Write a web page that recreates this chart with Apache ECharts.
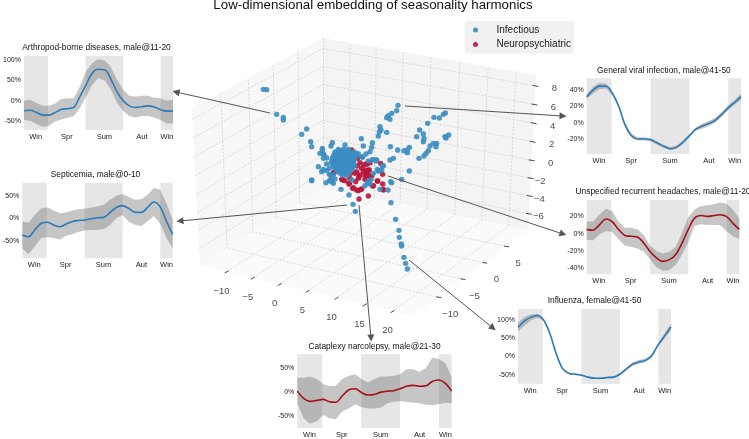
<!DOCTYPE html>
<html><head><meta charset="utf-8">
<style>html,body{margin:0;padding:0;background:#fff}#c{width:749px;height:439px}</style>
<script src="https://cdn.jsdelivr.net/npm/echarts@6/dist/echarts.min.js"></script>
</head><body><div id="c"></div>
<script>
// ---------- data: seasonal curves (percent) sampled on sampleDays ----------
const sampleDays=[0,15,30,46,61,76,91,106,122,137,152,167,182,198,213,228,243,258,274,289,304,319,334,350,365];
const seasonTickDays=[29,105,197,289,350];
const seasonTickLabels=['Win','Spr','Sum','Aut','Win'];
const seasonSpans=[[0,59],[151,243],[335,365]];

const arthropodMean=[-25,-24,-29,-36,-36,-30,-22,-20,-17,10,39,68,78,77,53,22,0,-13,-17,-15,-13,-16,-22,-26,-26];
const arthropodHigh=[0,2,-5,-13,-13,-8,4,6,6,35,73,93,103,100,83,52,27,12,10,12,12,7,6,0,2];
const arthropodLow=[-48,-50,-58,-65,-63,-52,-47,-43,-38,-19,10,39,56,50,27,-5,-26,-38,-42,-38,-38,-42,-48,-57,-57];

const septicemiaMean=[-37,-41,-26,-11,-9,-15,-19,-13,-7,-5,-4,-1,1,2,13,24,28,22,13,13,24,36,26,-7,-36];
const septicemiaHigh=[-7,-10,7,22,24,17,11,13,18,20,21,24,26,30,41,50,54,47,41,42,52,67,64,33,-4];
const septicemiaLow=[-67,-80,-63,-44,-42,-44,-47,-39,-35,-30,-27,-26,-26,-24,-15,0,7,-7,-15,-17,-7,5,-11,-44,-67];

const viralMean=[32,40,45,45,36,20,-3,-16,-20,-20,-21,-25,-29,-32,-30,-24,-16,-8,-4,-1,3,10,18,25,32];
const viralHigh=[35,44,49,48,38,22,-1,-14,-18,-18,-19,-23,-27,-30,-28,-22,-14,-6,-1,2,6,13,21,28,36];
const viralLow=[29,36,41,42,33,18,-5,-18,-22,-22,-23,-27,-31,-34,-32,-26,-18,-10,-7,-4,0,7,15,22,28];

const headacheMean=[5,4,10,17,14,5,-2,-3,-4,-11,-21,-28,-32,-30,-24,-11,5,18,21,20,21,22,20,12,5];
const headacheHigh=[14,14,22,29,26,14,7,7,5,-2,-14,-20,-23,-21,-15,1,19,28,32,33,34,36,35,28,17];
const headacheLow=[-7,-8,-1,3,2,-6,-14,-15,-17,-21,-30,-39,-43,-42,-36,-24,-10,9,11,10,10,10,3,-3,-6];

const influenzaMean=[80,97,107,112,100,63,8,-33,-47,-49,-52,-57,-60,-60,-58,-57,-49,-35,-21,-15,-11,2,31,57,81];
const influenzaHigh=[92,108,115,117,103,65,10,-31,-45,-47,-50,-55,-58,-58,-56,-54,-46,-31,-16,-10,-6,6,35,63,90];
const influenzaLow=[68,84,98,106,97,61,6,-35,-49,-51,-54,-59,-62,-62,-60,-60,-52,-39,-26,-20,-16,-2,27,50,72];

const cataplexyMean=[2,-13,-19,-17,-15,-20,-21,-8,5,7,-1,-6,-5,0,2,3,7,12,14,12,13,22,25,18,2];
const cataplexyHigh=[30,29,32,27,17,12,13,27,34,37,27,20,27,32,32,34,37,47,47,42,50,71,69,60,30];
const cataplexyLow=[-23,-54,-65,-60,-47,-54,-56,-40,-34,-25,-31,-34,-34,-32,-23,-20,-19,-20,-22,-23,-26,-27,-25,-22,-23];

// ---------- data: embedding points, as projected onto the picture plane ----------
const infectiousPoints=[
[280,208],[290,209],[320,283],[340,292],[340,300],[410,327],[395,343],[422,365],[425,380],[457,385],[487,368],[483,378],[450,400],[462,405],[525,375],[574,356],[580,378],[607,368],[605,382],[650,337],[630,320],[628,335],[625,348],[633,330],[684,256],[680,272],[665,280],[655,287],[650,293],[660,298],[792,292],[808,294],[820,283],[826,279],[773,310],[749,330],[740,350],[760,342],[762,355],[760,365],[825,350],[836,345],[828,354],[661,380],[683,390],[702,392],[712,390],[718,382],[712,398],[790,370],[800,370],[798,380],[780,378],[775,392],[768,400],[762,408],[747,415],[670,415],[660,420],[640,437],[620,420],[600,395],[588,402],[575,410],[560,400],
[425,480],[468,488],[485,485],[513,508],[537,525],[549,553],[556,574],[663,548],[677,598],[687,631],[688,652],[694,672],[695,678],[702,712],[707,730],[712,747],[654,510],[630,508],[662,485],[585,497],[595,485],[600,492],[718,453],[695,478],[635,450],[625,453],
[460,448],[425,482],[480,480],[490,490],[495,477],[482,465],[603,478],[610,460],[622,448],[638,438],[665,488],[592,490],[615,420],[445,440],[455,455],[470,432],[478,445],[460,415],[470,414],[578,412],[608,418],
[470,452],[478,463],[490,465],[485,475],[480,482],[545,480],[457,390],[460,402],[565,402],[550,405],[595,423],[618,423],[628,452],
[505,388],[520,388],[535,388],[495,396],[510,396],[525,396],[540,396],[552,396],[492,404],[505,404],[518,404],[532,404],[546,404],[556,404],[488,412],[500,412],[514,412],[528,412],[542,412],[555,412],[486,420],[498,420],[512,420],[526,420],[540,420],[552,420],[484,428],[496,428],[510,428],[524,428],[538,428],[550,428],[488,436],[502,436],[516,436],[530,436],[544,436],[554,436],[494,444],[508,444],[522,444],[536,444],[548,444],[500,452],[514,452],[528,452],[540,452],[512,460],[526,460],[536,460],
[512,392],[528,392],[500,400],[516,400],[532,400],[548,400],[498,408],[511,408],[525,408],[539,408],[551,408],[493,416],[507,416],[521,416],[535,416],[548,416],[491,424],[505,424],[519,424],[533,424],[546,424],[492,432],[506,432],[520,432],[534,432],[547,432],[498,440],[512,440],[526,440],[540,440],[504,448],[518,448],[532,448],[544,448],[507,456],[520,456],[533,456],[518,466],[530,466]
];
const neuroPoints=[
[567,537],[595,528],[640,510],[610,497],[560,510],[573,508],[548,505],[537,492],[518,480],[600,472],[622,483],[638,492],[638,463],[585,478],[540,475],[605,468],[590,455],[570,465],[555,460],[598,450],
[632,430],[623,483],[608,498],[565,512],[575,507],[538,490],[515,478],[525,482],[580,455],[588,460],[595,465],[585,468],[588,432],[600,428],[545,390],[493,412],[490,458],[567,470],[557,485],[560,455],[542,460],[562,415],[562,438],
[580,435],[592,432],[585,450],[595,450],[590,465],[565,475],[550,503],[495,455],[640,508],[575,445],[570,428]
];

// ---------- data: 3D axis tick labels ----------
const floorXTickLabels=['\u221210','\u22125','0','5','10','15','20'];
const floorYTickLabels=['\u221210','\u22125','0','5'];
const heightTickLabels=['8','6','4','2','0','\u22122','\u22124','\u22126'];
const floorXTickFractions=[.127,.25,.376,.507,.643,.775,.906];
const floorYTickFractions=[.22,.43,.62,.81];
const heightTickFractions=[.07,.19,.31,.43,.55,.665,.78,.895];

const panelNames=['Arthropod-borne diseases, male@11-20','Septicemia, male@0-10','General viral infection, male@41-50','Unspecified recurrent headaches, male@11-20','Influenza, female@41-50','Cataplexy narcolepsy, male@21-30'];

// ---------- layout ----------
const BLUE='#2b7bba',RED='#a50f15';
const panels=[
 {name:panelNames[0],mean:arthropodMean,hi:arthropodHigh,lo:arthropodLow,color:BLUE,box:[20,56,153,74],y:[-73,111],ticks:[-50,0,50,100],ty:44},
 {name:panelNames[1],mean:septicemiaMean,hi:septicemiaHigh,lo:septicemiaLow,color:BLUE,box:[18.3,182.7,154.4,75.6],y:[-89,79],ticks:[-50,0,50],ty:171},
 {name:panelNames[2],mean:viralMean,hi:viralHigh,lo:viralLow,color:BLUE,box:[586.7,78.3,154.3,75.7],y:[-38.5,54.6],ticks:[-20,0,20,40],ty:67},
 {name:panelNames[3],mean:headacheMean,hi:headacheHigh,lo:headacheLow,color:RED,box:[586.7,200,152.6,74.3],y:[-47,39],ticks:[-40,-20,0,20],ty:188},
 {name:panelNames[4],mean:influenzaMean,hi:influenzaHigh,lo:influenzaLow,color:BLUE,box:[518,309,153,74.7],y:[-75,130],ticks:[-50,0,50,100],ty:297},
 {name:panelNames[5],mean:cataplexyMean,hi:cataplexyHigh,lo:cataplexyLow,color:RED,box:[297.3,354.3,154.4,75.7],y:[-74,78],ticks:[-50,0,50],ty:343}
];
const FONT='"Liberation Sans",Arial,sans-serif';
// picture-plane units: one unit is a third of a pixel, measured from this origin
const toPlane=(px,py)=>[(px-170)*3,(py-20)*3];
const lerp=(a,b,t)=>[a[0]+(b[0]-a[0])*t,a[1]+(b[1]-a[1])*t];
const floorLeft=[200,265],floorFront=[413,316],floorRight=[528,230],floorBack=[323,188];
const topLeft=[192,108],topBack=[323,38],topRight=[536,75];
const seg=(a,b)=>({coords:[toPlane(a[0],a[1]),toPlane(b[0],b[1])]});
const gridLines=[];
floorXTickFractions.forEach(u=>{
  const a=lerp(floorLeft,floorFront,u),b=lerp(floorBack,floorRight,u),c=lerp(topBack,topRight,u);
  gridLines.push(seg(a,b),seg(b,c));
});
floorYTickFractions.forEach(v=>{
  const a=lerp(floorFront,floorRight,v),b=lerp(floorLeft,floorBack,v),c=lerp(topLeft,topBack,v);
  gridLines.push(seg(a,b),seg(b,c));
});
heightTickFractions.forEach(t=>{
  const l=lerp(topLeft,floorLeft,t),k=lerp(topBack,floorBack,t),r=lerp(topRight,floorRight,t);
  gridLines.push(seg(l,k),seg(k,r));
});
gridLines.push(seg(topBack,floorBack));
const tickMarks=[];
floorXTickFractions.forEach(u=>{const a=lerp(floorLeft,floorFront,u);tickMarks.push(seg([a[0]-2.5,a[1]+1.5],[a[0]+1.5,a[1]-.7]));});
floorYTickFractions.forEach(v=>{const a=lerp(floorFront,floorRight,v);tickMarks.push(seg([a[0]-2,a[1]-.2],[a[0]+3,a[1]+.5]));});
heightTickFractions.forEach(t=>{const r=lerp(topRight,floorRight,t);tickMarks.push(seg([r[0]-3,r[1]-.4],[r[0]+3,r[1]+.6]));});
const arrows=[
 seg([270,113],[176,92]),seg([405,106],[563,116]),seg([347,205],[180,221]),
 seg([359,205],[371,338]),seg([388,176],[563,234]),seg([409,260],[493,328])
];
const tickTexts=[];
floorXTickLabels.forEach((s,i)=>{const f=lerp(floorLeft,floorFront,floorXTickFractions[i]);tickTexts.push([...toPlane(f[0]-5.5,f[1]+19.5),s]);});
floorYTickLabels.forEach((s,i)=>{const f=lerp(floorFront,floorRight,floorYTickFractions[i]);tickTexts.push([...toPlane(f[0]+12,f[1]+17),s]);});
heightTickLabels.forEach((s,i)=>{const f=lerp(topRight,floorRight,heightTickFractions[i]);tickTexts.push([...toPlane(f[0]+(s.length>1?9.5:19),f[1]+3),s]);});

const grids=[],xAxes=[],yAxes=[],series=[],titles=[{text:'Low-dimensional embedding of seasonality harmonics',left:373,top:-1,textAlign:'center',padding:0,textStyle:{fontFamily:FONT,fontSize:13.3,fontWeight:'normal',color:'#111'}}];
panels.forEach((p,i)=>{
  grids.push({left:p.box[0],top:p.box[1],width:p.box[2],height:p.box[3]});
  xAxes.push({type:'value',gridIndex:i,min:0,max:365,axisLine:{show:false},axisTick:{show:false},splitLine:{show:false},
    axisLabel:{customValues:seasonTickDays,formatter:v=>seasonTickLabels[seasonTickDays.indexOf(v)]||'',fontFamily:FONT,fontSize:7.5,color:'#222',margin:3,hideOverlap:false}});
  yAxes.push({type:'value',gridIndex:i,min:p.y[0],max:p.y[1],axisLine:{show:false},axisTick:{show:false},splitLine:{show:false},
    axisLabel:{customValues:p.ticks,formatter:v=>v+'%',fontFamily:FONT,fontSize:7,color:'#222',margin:3,showMinLabel:true,showMaxLabel:true}});
  titles.push({text:p.name,left:p.box[0]+p.box[2]/2,top:p.ty,textAlign:'center',padding:0,textStyle:{fontFamily:FONT,fontSize:8.4,fontWeight:'normal',color:'#111'}});
  series.push({type:'line',xAxisIndex:i,yAxisIndex:i,data:[],silent:true,z:1,
    markArea:{silent:true,itemStyle:{color:'#e6e6e6'},data:seasonSpans.map(s=>[{xAxis:s[0]},{xAxis:s[1]}])}});
  series.push({type:'custom',xAxisIndex:i,yAxisIndex:i,silent:true,z:2,clip:true,
    encode:{x:0,y:[1,2]},
    data:sampleDays.map((d,k)=>[d,p.lo[k],p.hi[k]]),
    renderItem:(params,api)=>{
      if(params.dataIndex!==0)return {type:'group',children:[]};
      const up=sampleDays.map((d,k)=>api.coord([d,p.hi[k]]));
      const dn=sampleDays.map((d,k)=>api.coord([d,p.lo[k]])).reverse();
      return {type:'polygon',shape:{points:up.concat(dn)},style:{fill:'rgba(105,105,105,0.38)'}};
    }});
  series.push({type:'line',xAxisIndex:i,yAxisIndex:i,silent:true,z:3,smooth:0.33,showSymbol:false,
    data:sampleDays.map((d,k)=>[d,p.mean[k]]),lineStyle:{color:p.color,width:1.6}});
});
const OV=panels.length;
grids.push({left:0,top:0,width:749,height:439});
xAxes.push({type:'value',gridIndex:OV,min:-510,max:1737,show:false});
yAxes.push({type:'value',gridIndex:OV,min:-60,max:1257,inverse:true,show:false});
const ov={xAxisIndex:OV,yAxisIndex:OV,silent:true,coordinateSystem:'cartesian2d'};
series.push({...ov,type:'lines',z:2,data:gridLines,symbol:'none',lineStyle:{color:'#c4c4c4',width:.6,type:[2,1.5],opacity:1}});
series.push({...ov,type:'lines',z:2,data:tickMarks,symbol:'none',lineStyle:{color:'#222',width:.8,opacity:1}});
series.push({...ov,type:'scatter',z:2,symbolSize:0,data:tickTexts,label:{show:true,position:'inside',formatter:q=>q.data[2],fontFamily:FONT,fontSize:9.5,color:'#222'}});
series.push({...ov,name:'Neuropsychiatric',type:'scatter',z:4,symbolSize:5.4,data:neuroPoints,itemStyle:{color:'#b8153a',opacity:.9}});
series.push({...ov,name:'Infectious',type:'scatter',z:5,symbolSize:5.4,data:infectiousPoints,itemStyle:{color:'#3b8dc2',opacity:.9}});
series.push({...ov,type:'lines',z:6,data:arrows,symbol:['none','triangle'],symbolSize:7,lineStyle:{color:'#555',width:1,opacity:1}});

const chart=echarts.init(document.getElementById('c'),null,{renderer:'canvas'});
chart.setOption({
  animation:false,backgroundColor:'#fff',
  title:titles,grid:grids,xAxis:xAxes,yAxis:yAxes,series,
  legend:{data:['Infectious','Neuropsychiatric'],orient:'vertical',left:465,top:21,width:108,padding:[4,3,4,8],itemGap:4.5,itemWidth:12,itemHeight:5,icon:'circle',
    backgroundColor:'#f1f1f1',borderRadius:2,textStyle:{fontFamily:FONT,fontSize:10,color:'#222',padding:[0,0,0,10]}},
  graphic:[
   {type:'polygon',z:0,shape:{points:[topLeft,topBack,floorBack,floorLeft]},style:{fill:'#f7f7f7'},silent:true},
   {type:'polygon',z:0,shape:{points:[topBack,topRight,floorRight,floorBack]},style:{fill:'#f4f4f4'},silent:true},
   {type:'polygon',z:0,shape:{points:[floorLeft,floorFront,floorRight,floorBack]},style:{fill:'#fafafa'},silent:true}
  ]
});
</script></body></html>
